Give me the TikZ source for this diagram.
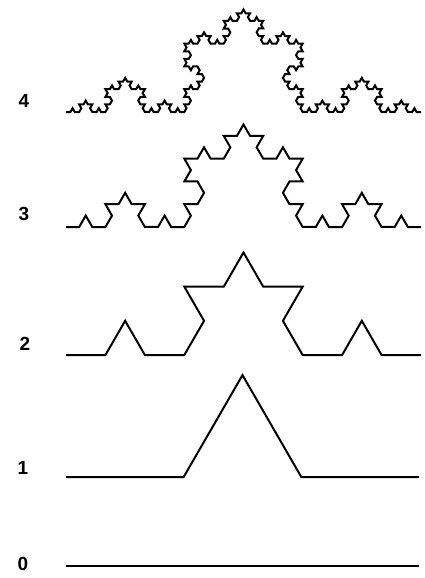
\documentclass[tikz,border=0pt]{standalone}
\usepackage{fontspec}
\setmainfont{Liberation Sans}
\usetikzlibrary{decorations.fractals}
\begin{document}
\begin{tikzpicture}[
  x=1pt, y=-1pt,
  level/.style={font=\fontsize{19}{19}\selectfont\bfseries, inner sep=0pt},
  curve/.style={line width=2pt, decoration=Koch snowflake}
]
  \useasboundingbox (0,0) rectangle (424,578);

  % Level labels
  \node[level] (lab4) at (24, 101) {4};
  \node[level] (lab3) at (24, 214) {3};
  \node[level] (lab2) at (25, 344) {2};
  \node[level] (lab1) at (23, 468) {1};
  \node[level] (lab0) at (23, 564) {0};

  % End points of each curve
  \coordinate (s4) at (66, 112);  \coordinate (e4) at (421, 112);
  \coordinate (s3) at (66, 227);  \coordinate (e3) at (421, 227);
  \coordinate (s2) at (66, 355);  \coordinate (e2) at (421, 355);
  \coordinate (s1) at (66, 477);  \coordinate (e1) at (419, 477);
  \coordinate (s0) at (66, 566);  \coordinate (e0) at (419, 566);

  % Koch curves
  \draw[curve] decorate{decorate{decorate{decorate{(s4) -- (e4)}}}};
  \draw[curve] decorate{decorate{decorate{(s3) -- (e3)}}};
  \draw[curve] decorate{decorate{(s2) -- (e2)}};
  \draw[curve] decorate{(s1) -- (e1)};
  \draw[curve] (s0) -- (e0);
\end{tikzpicture}
\end{document}
